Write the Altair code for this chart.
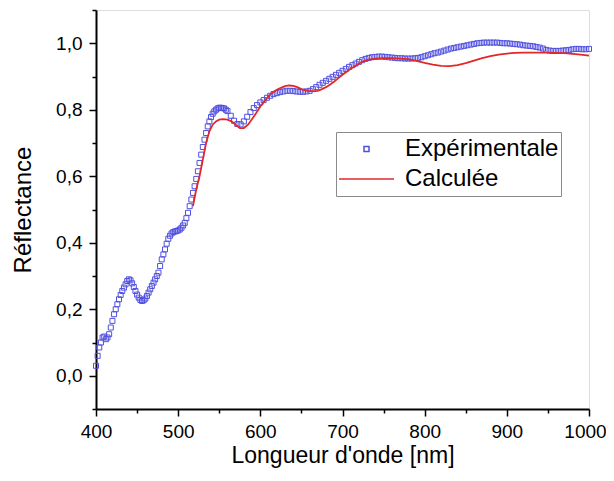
import altair as alt
import pandas as pd

# Experimental reflectance: every 2 nm from 400 to 558 nm, then every 4 nm to 1000 nm
exp_wavelength = list(range(400, 560, 2)) + list(range(560, 1001, 4))
exp_reflectance = [
    # 400-418
    0.03, 0.06, 0.085, 0.10, 0.115, 0.118, 0.11, 0.115, 0.125, 0.145,
    # 420-438
    0.165, 0.185, 0.2, 0.215, 0.23, 0.243, 0.255, 0.265, 0.275, 0.285,
    # 440-458
    0.29, 0.287, 0.278, 0.267, 0.255, 0.244, 0.235, 0.228, 0.225, 0.227,
    # 460-478
    0.232, 0.24, 0.25, 0.26, 0.27, 0.28, 0.29, 0.3, 0.31, 0.33,
    # 480-498
    0.35, 0.365, 0.38, 0.397, 0.412, 0.421, 0.428, 0.432, 0.434, 0.435,
    # 500-518
    0.437, 0.44, 0.445, 0.452, 0.46, 0.474, 0.49, 0.51, 0.53, 0.55,
    # 520-538
    0.57, 0.592, 0.615, 0.64, 0.665, 0.688, 0.71, 0.73, 0.75, 0.765,
    # 540-558
    0.778, 0.788, 0.795, 0.8, 0.804, 0.806, 0.806, 0.805, 0.804, 0.8,
    # 560-596 (step 4)
    0.796, 0.782, 0.767, 0.757, 0.756, 0.765, 0.779, 0.793, 0.805, 0.814,
    0.822, 0.829, 0.836, 0.842, 0.847, 0.85, 0.853, 0.855, 0.857, 0.857,  # 600-636
    0.856, 0.855, 0.854, 0.854, 0.855, 0.857, 0.862, 0.868, 0.875, 0.881, # 640-676
    0.887, 0.893, 0.899, 0.905, 0.911, 0.917, 0.923, 0.929, 0.934, 0.939, # 680-716
    0.944, 0.949, 0.953, 0.956, 0.958, 0.959, 0.96, 0.96, 0.959, 0.958,   # 720-756
    0.957, 0.956, 0.955, 0.955, 0.954, 0.954, 0.954, 0.955, 0.956, 0.958, # 760-796
    0.961, 0.964, 0.967, 0.97, 0.972, 0.975, 0.978, 0.981, 0.984, 0.986,  # 800-836
    0.988, 0.99, 0.992, 0.994, 0.996, 0.998, 1.0, 1.001, 1.002, 1.002,    # 840-876
    1.002, 1.002, 1.002, 1.001, 1.0, 1.0, 0.999, 0.998, 0.997, 0.996,     # 880-916
    0.994, 0.993, 0.992, 0.991, 0.989, 0.987, 0.984, 0.98, 0.978, 0.977,  # 920-956
    0.977, 0.977, 0.978, 0.979, 0.98, 0.982, 0.983, 0.983, 0.982, 0.982,  # 960-996
    0.983,                                                                # 1000
]

# Calculated reflectance
calc_wavelength = [
    518, 522, 526, 530, 534, 538, 542, 546, 550, 555, 560, 565, 570, 575, 580,
    585, 590, 595, 600, 605, 610, 615, 620, 625, 630, 635, 640, 645, 650, 655,
    660, 665, 670, 675, 680, 685, 690, 695, 700, 705, 710, 715, 720, 725, 730,
    740, 750, 760, 770, 780, 790, 800, 810, 820, 830, 840, 850, 860, 870, 880,
    890, 900, 910, 920, 930, 940, 950, 960, 970, 980, 990, 1000,
]
calc_reflectance = [
    0.51, 0.56, 0.60, 0.65, 0.70, 0.735, 0.755, 0.765, 0.77, 0.772, 0.77, 0.765, 0.755, 0.745, 0.745,
    0.755, 0.772, 0.79, 0.81, 0.826, 0.84, 0.852, 0.86, 0.866, 0.871, 0.873, 0.872, 0.868, 0.862, 0.858,
    0.856, 0.856, 0.857, 0.862, 0.868, 0.876, 0.885, 0.895, 0.905, 0.914, 0.923, 0.931, 0.939, 0.945, 0.95,
    0.954, 0.955, 0.955, 0.954, 0.952, 0.947, 0.941, 0.936, 0.932, 0.931, 0.934, 0.94, 0.948, 0.955, 0.961,
    0.966, 0.969, 0.971, 0.972, 0.972, 0.972, 0.972, 0.971, 0.97, 0.968, 0.966, 0.963,
]

series_names = ["Expérimentale", "Calculée"]
series_colors = ["#5050e0", "#e0282a"]

x_major = [400, 500, 600, 700, 800, 900, 1000]
x_minor = [450, 550, 650, 750, 850, 950]
y_major = [0.0, 0.2, 0.4, 0.6, 0.8, 1.0]
y_minor = [-0.1, 0.1, 0.3, 0.5, 0.7, 0.9, 1.1]

FONT = "Liberation Sans"

df_exp = pd.DataFrame({"wl": exp_wavelength, "R": exp_reflectance, "serie": series_names[0]})
df_calc = pd.DataFrame({"wl": calc_wavelength, "R": calc_reflectance, "serie": series_names[1]})

x_scale = alt.Scale(domain=[400, 1000], nice=False, zero=False)
y_scale = alt.Scale(domain=[-0.1, 1.1], nice=False, zero=False)

legend = alt.Legend(
    title=None, orient="none", legendX=240, legendY=122,
    labelFont=FONT, labelFontSize=24, labelColor="black", labelOffset=10,
    padding=2, strokeColor="#8a8a8a", fillColor="white", cornerRadius=0,
    symbolStrokeWidth=1.5, rowPadding=0, clipHeight=30,
)

color = alt.Color("serie:N", scale=alt.Scale(domain=series_names, range=series_colors), legend=legend)

points = alt.Chart(df_exp).mark_point(filled=False, strokeWidth=1, opacity=1).encode(
    x=alt.X("wl:Q", scale=x_scale, axis=alt.Axis(
        orient="bottom", values=x_major, format="d", tickSize=7, tickWidth=1.5, tickColor="black",
        labelFont=FONT, labelFontSize=19, labelColor="black", labelPadding=6,
        labelOffset={"condition": {"test": "datum.value == 1000", "value": -4}, "value": 0},
        title="Longueur d'onde [nm]", titleFont=FONT, titleFontSize=23,
        titleFontWeight="normal", titleColor="black", titlePadding=3,
        domainColor="black", domainWidth=2, grid=False, labelFlush=False)),
    y=alt.Y("R:Q", scale=y_scale, axis=alt.Axis(
        orient="left", values=y_major, labelExpr="replace(format(datum.value, '.1f'), '.', ',')",
        tickSize=7, tickWidth=1.5, tickColor="black",
        labelFont=FONT, labelFontSize=19, labelColor="black", labelPadding=7,
        title="Réflectance", titleFont=FONT, titleFontSize=24,
        titleFontWeight="normal", titleColor="black", titlePadding=20,
        domainColor="black", domainWidth=2, grid=False, labelFlush=False)),
    color=color,
    shape=alt.Shape("serie:N", scale=alt.Scale(domain=series_names, range=["square", "stroke"]), legend=legend),
    size=alt.Size("serie:N", scale=alt.Scale(domain=series_names, range=[25, 3025]), legend=legend),
)

line = alt.Chart(df_calc).mark_line(strokeWidth=1.8).encode(
    x=alt.X("wl:Q", scale=x_scale, axis=alt.Axis(
        orient="bottom", values=x_minor, labels=False, domain=False, tickSize=4, tickWidth=1.5,
        tickColor="black", title=None, grid=False)),
    y=alt.Y("R:Q", scale=y_scale, axis=alt.Axis(
        orient="left", values=y_minor, labels=False, domain=False, tickSize=4, tickWidth=1.5,
        tickColor="black", title=None, grid=False)),
    color=color,
)

chart = alt.layer(points, line).resolve_axis(x="independent", y="independent").properties(
    width=493, height=399,
    padding={"left": 88, "top": 2, "right": 17, "bottom": 62},
    autosize="none",
).configure_view(stroke="black", strokeWidth=2).configure(background="white")

chart.save("out.html", embed_options={"renderer": "svg", "actions": False})
